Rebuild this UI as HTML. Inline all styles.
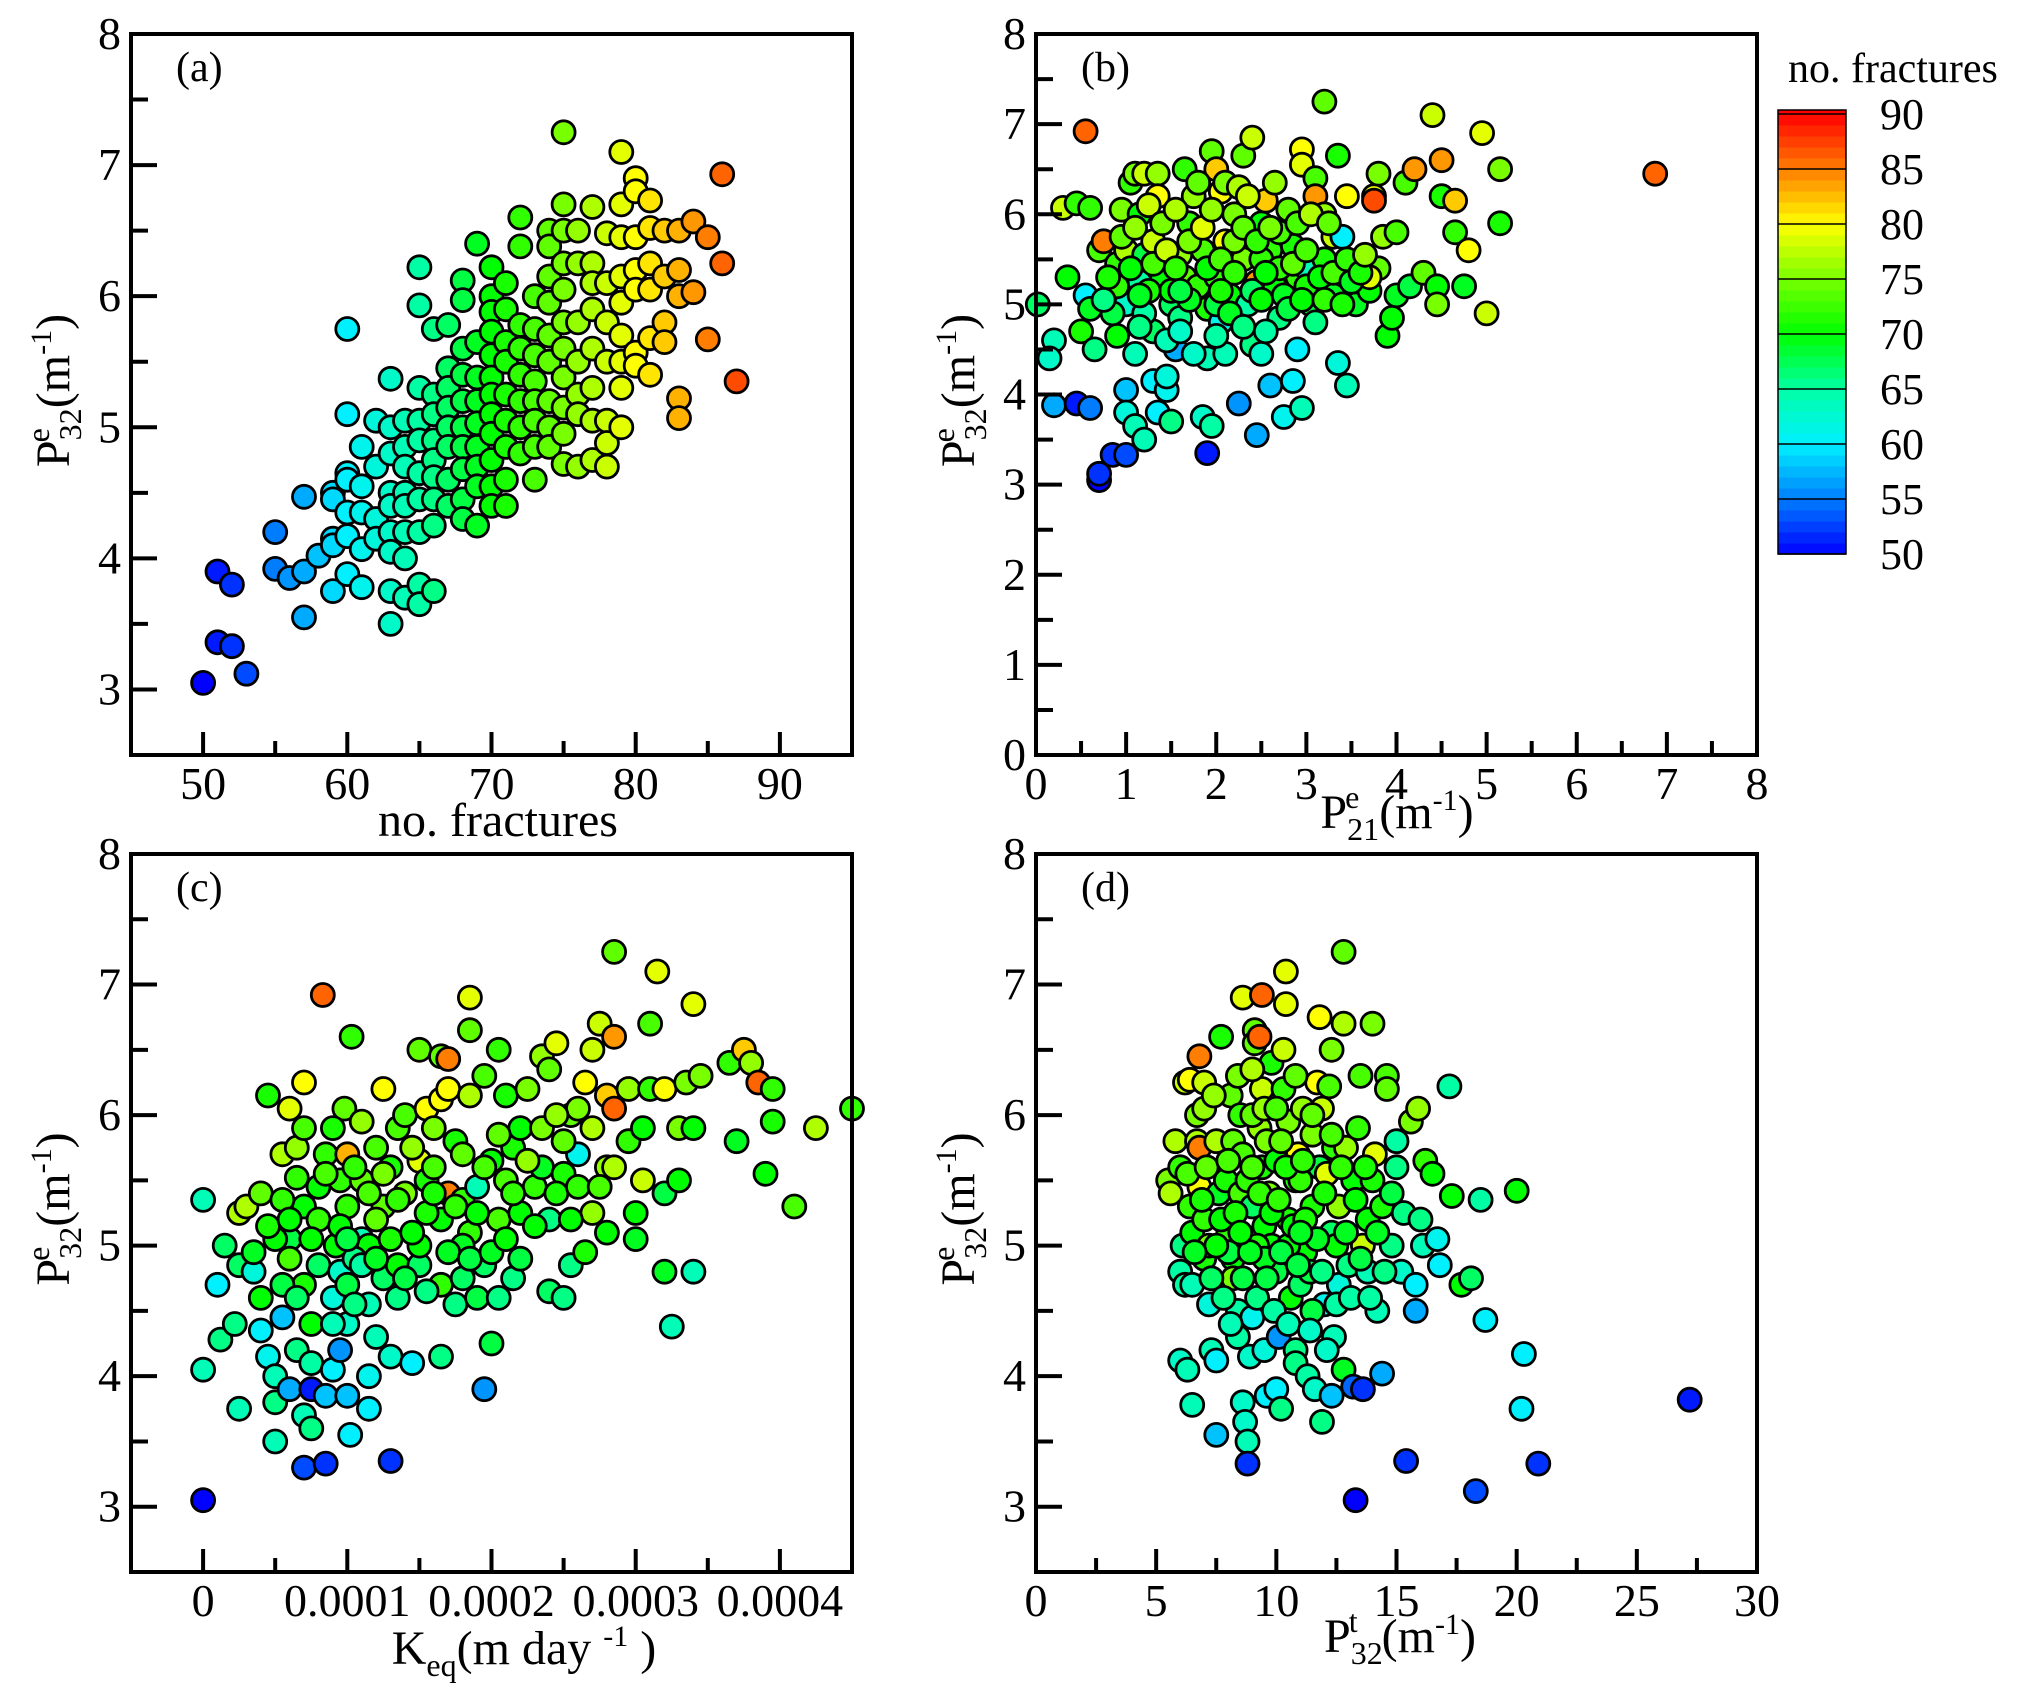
<!DOCTYPE html>
<html><head><meta charset="utf-8"><style>
html,body{margin:0;padding:0;background:#fff;}
svg, svg text{font-family:"Liberation Serif","Times New Roman",serif;}
</style></head><body>
<svg id="fig" width="2030" height="1703" viewBox="0 0 2030 1703" xmlns="http://www.w3.org/2000/svg" font-family="Liberation Serif, serif"></svg>
<script>
// ---------- DATA ----------
const aFractures = [50,51,52,53,55,56,57,58,59,60,61,62,63,64,65,66,67,68,69,70,71,72,73,74,75,76,77,78,79,80,81,82,83,84,85,86,87];
const aP32 = [
[3.05],[3.9,3.36],[3.8,3.33],[3.12],[4.2,3.92],[3.85],[4.47,3.9,3.55],[4.02],
[4.5,4.45,4.15,4.1,3.75],[5.75,5.1,4.65,4.6,4.35,4.17,3.88],[4.85,4.55,4.35,4.07,3.78],
[5.05,4.7,4.3,4.15],[5.37,5.0,4.8,4.5,4.4,4.2,4.05,3.75,3.5],[5.05,4.85,4.7,4.5,4.4,4.2,4.0,3.7],
[6.22,5.93,5.3,5.05,4.9,4.65,4.45,4.2,3.8,3.65],[5.75,5.25,5.1,4.9,4.75,4.62,4.45,4.25,3.75],
[5.78,5.45,5.3,5.15,5.0,4.85,4.6,4.4],[6.12,5.97,5.6,5.4,5.2,5.0,4.85,4.68,4.45,4.3],
[6.4,5.65,5.38,5.2,5.03,4.85,4.7,4.55,4.25],[6.22,6.0,5.88,5.73,5.55,5.38,5.25,5.1,4.95,4.75,4.55,4.4],
[6.1,5.9,5.65,5.5,5.25,5.05,4.85,4.6,4.4],[6.6,6.38,5.78,5.6,5.4,5.2,5.0,4.8],
[6.0,5.75,5.55,5.35,5.2,5.05,4.85,4.6],[6.5,6.38,6.15,5.95,5.7,5.5,5.2,5.0,4.85],
[7.25,6.7,6.5,6.25,6.05,5.8,5.6,5.38,5.15,4.95,4.72],[6.5,6.25,5.8,5.5,5.25,5.1,4.7],
[6.68,6.25,6.1,5.9,5.6,5.3,5.05,4.75],[6.48,6.1,5.8,5.5,5.05,4.88,4.7],
[7.1,6.7,6.45,6.15,5.95,5.7,5.5,5.3,5.0],[6.9,6.8,6.45,6.2,6.05,5.57,5.47],
[6.73,6.52,6.25,6.05,5.68,5.4],[6.5,6.15,5.8,5.65],[6.5,6.2,6.0,5.22,5.07],
[6.57,6.03],[6.45,5.67],[6.93,6.25],[5.35]];
const bPoints = [[0.02,5.0,67],[0.2,4.6,64],[0.15,4.4,63],[0.3,6.07,78],[0.45,6.12,72],[0.6,6.07,72],[0.35,5.3,70],[0.55,5.1,60],[0.6,4.95,69],[0.5,4.7,71],[0.65,4.5,66],[0.2,3.88,57],[0.45,3.9,51],[0.6,3.85,55],[0.55,6.92,86],[0.7,3.05,50],[0.7,3.12,52],[0.85,3.33,52],[1.0,3.33,53],[1.9,3.35,51],[0.7,5.6,73],[0.75,5.7,85],[0.9,5.45,72],[0.95,6.05,75],[1.0,5.6,77],[1.05,6.35,72],[1.1,6.45,75],[1.2,6.45,78],[1.35,6.45,76],[1.65,6.5,72],[1.15,6.0,70],[1.2,5.55,68],[1.15,5.25,65],[1.0,5.0,63],[0.9,4.65,70],[1.1,4.45,64],[1.0,4.05,58],[1.0,3.8,62],[1.1,3.65,64],[1.2,3.5,64],[1.3,4.15,60],[1.45,4.05,61],[1.35,3.8,60],[1.45,4.2,62],[1.55,4.5,57],[1.5,3.7,66],[1.35,6.2,80],[1.3,5.7,78],[1.4,5.3,70],[1.5,5.0,67],[1.3,4.7,67],[1.6,4.85,66],[1.65,5.3,74],[1.6,5.55,76],[1.7,5.9,72],[1.75,6.2,76],[1.85,5.6,73],[1.8,5.2,72],[1.9,4.95,71],[1.9,4.4,64],[1.85,3.75,63],[1.95,3.65,65],[1.95,6.7,74],[2.0,6.5,82],[2.05,6.25,80],[2.1,5.7,80],[2.0,5.3,72],[2.05,4.8,61],[2.1,4.45,64],[2.15,5.1,70],[2.2,6.0,75],[2.3,6.65,74],[2.4,6.85,78],[2.3,5.5,75],[2.35,5.0,65],[2.4,4.55,66],[2.25,3.9,56],[2.45,3.55,57],[2.5,4.45,63],[2.45,5.25,84],[2.5,5.9,70],[2.55,6.15,82],[2.6,5.6,72],[2.65,5.2,70],[2.7,4.85,66],[2.6,4.1,58],[2.75,3.75,61],[2.8,6.05,74],[2.85,5.65,71],[2.9,5.3,72],[2.9,4.5,60],[2.95,3.85,64],[2.85,4.15,60],[2.95,6.72,80],[2.95,6.55,79],[3.0,5.4,64],[3.05,5.0,68],[3.1,6.4,73],[3.1,6.2,84],[3.2,7.25,74],[3.2,6.0,76],[3.2,5.5,71],[3.3,5.1,69],[3.3,5.75,78],[3.35,6.65,71],[3.4,5.75,60],[3.35,4.35,62],[3.45,4.1,64],[3.45,6.2,80],[3.55,5.0,69],[3.7,5.15,70],[3.8,5.4,74],[3.7,5.3,79],[3.75,6.2,79],[3.75,6.15,87],[3.8,6.45,75],[3.9,4.65,70],[3.85,5.75,76],[4.0,5.8,73],[4.0,5.1,69],[3.95,4.85,70],[4.1,6.35,73],[4.2,6.5,84],[4.15,5.2,68],[4.3,5.35,74],[4.45,5.2,70],[4.45,5.0,75],[4.5,6.6,84],[4.5,6.2,71],[4.65,6.15,82],[4.65,5.8,72],[4.75,5.2,69],[4.8,5.6,80],[4.4,7.1,78],[4.95,6.9,79],[5.0,4.9,78],[5.15,6.5,75],[5.15,5.9,71],[6.87,6.45,86],[0.9,5.2,72],[1.5,5.15,70],[2.0,5.0,68],[2.5,5.5,72],[3.0,5.2,71],[1.2,4.9,65],[2.7,5.8,73],[2.2,5.7,75],
[0.8,5.3,71],[0.85,4.9,68],[0.95,5.75,74],[1.05,5.4,70],[1.1,5.85,76],[1.15,4.75,66],[1.25,5.15,71],[1.25,6.1,78],[1.3,5.45,73],[1.4,5.9,75],[1.45,4.6,64],[1.45,5.6,78],[1.55,6.05,77],[1.55,5.4,72],[1.6,4.7,63],[1.7,5.05,69],[1.7,5.7,75],[1.75,4.45,63],[1.8,6.35,74],[1.85,5.85,79],[1.9,5.4,70],[1.95,6.05,76],[2.0,4.65,65],[2.05,5.5,73],[2.1,6.35,75],[2.15,4.9,69],[2.2,5.35,72],[2.25,6.3,77],[2.3,4.75,66],[2.3,5.85,74],[2.35,6.2,78],[2.4,5.15,67],[2.45,5.7,72],[2.5,5.05,70],[2.55,4.7,65],[2.6,5.85,75],[2.65,6.35,76],[2.7,5.4,72],[2.75,5.1,69],[2.8,4.95,68],[2.85,5.45,74],[2.9,5.9,73],[2.95,5.05,70],[3.0,5.6,73],[3.05,6.0,77],[3.1,4.8,66],[3.15,5.3,70],[3.2,5.05,72],[3.25,5.9,74],[3.3,5.35,73],[3.4,5.0,71],[3.45,5.5,72],[3.5,5.25,69],[3.6,5.35,71],[3.65,5.55,76],[1.6,5.15,68],[2.05,5.15,71],[2.55,5.35,70],[0.75,5.05,66],[1.15,5.1,69]];
const cPoints = [[0,5.35,64],[0,4.05,64],[0,3.05,50],[0.1,4.7,60],[0.15,5.0,67],[0.12,4.28,66],[0.25,3.75,64],[0.22,4.4,66],[0.25,4.85,67],[0.25,5.25,77],[0.3,5.3,77],[0.35,4.8,62],[0.4,5.4,74],[0.45,6.15,71],[0.4,4.6,70],[0.45,4.15,61],[0.5,4.0,64],[0.5,3.8,66],[0.5,3.5,64],[0.55,4.45,58],[0.6,6.05,79],[0.55,5.7,77],[0.6,5.05,68],[0.6,4.9,73],[0.65,5.52,72],[0.65,5.75,76],[0.7,5.9,73],[0.65,4.2,66],[0.6,3.9,57],[0.7,3.7,64],[0.75,3.6,66],[0.7,3.3,53],[0.75,3.9,51],[0.75,4.1,65],[0.75,4.4,70],[0.7,4.7,71],[0.7,5.3,70],[0.7,6.25,80],[0.8,5.45,70],[0.8,4.85,67],[0.85,5.7,72],[0.83,6.92,86],[0.85,3.33,52],[0.85,3.85,58],[0.9,4.05,60],[0.9,4.6,62],[0.92,5.0,70],[0.95,5.5,72],[0.95,4.2,56],[0.95,4.8,63],[0.98,6.05,74],[1.0,5.7,83],[1.0,5.3,72],[1.0,4.4,63],[1.0,3.85,58],[1.02,3.55,60],[1.03,6.6,72],[1.1,5.05,64],[1.1,5.95,76],[1.1,5.5,74],[1.15,4.55,64],[1.15,4.0,61],[1.15,3.75,60],[1.15,5.0,70],[1.2,5.75,73],[1.2,4.3,64],[1.25,6.2,80],[1.25,5.3,74],[1.25,4.75,67],[1.3,4.15,63],[1.3,3.35,52],[1.35,5.9,73],[1.35,4.85,70],[1.4,6.0,73],[1.4,5.4,75],[1.45,4.1,60],[1.5,4.85,67],[1.5,5.65,79],[1.5,6.5,74],[1.55,6.05,80],[1.55,5.5,71],[1.6,5.9,75],[1.65,6.12,80],[1.65,6.45,74],[1.65,5.2,70],[1.65,4.7,72],[1.65,4.15,66],[1.7,6.43,85],[1.7,5.4,85],[1.7,6.2,80],[1.75,4.55,66],[1.75,5.8,71],[1.8,5.35,72],[1.8,4.75,67],[1.85,6.9,79],[1.85,6.65,74],[1.85,6.15,77],[1.85,5.1,72],[1.9,5.45,64],[1.9,4.6,68],[1.95,3.9,56],[1.95,4.85,67],[1.95,6.3,73],[2.0,5.65,70],[2.0,4.25,68],[2.05,6.5,72],[2.05,4.6,66],[2.05,5.2,73],[2.1,6.15,71],[2.15,5.75,71],[2.15,4.75,66],[2.2,5.9,70],[2.2,5.25,70],[2.25,6.2,75],[2.3,5.45,72],[2.35,6.45,76],[2.35,5.6,69],[2.4,6.35,74],[2.4,5.2,66],[2.4,4.65,67],[2.45,6.55,79],[2.5,4.6,66],[2.5,5.55,71],[2.55,6.0,74],[2.55,4.85,66],[2.6,6.05,75],[2.6,5.7,61],[2.65,6.25,80],[2.65,4.95,71],[2.7,5.25,76],[2.7,6.5,78],[2.75,6.7,78],[2.8,6.15,82],[2.8,5.6,76],[2.8,5.1,70],[2.85,7.25,74],[2.85,6.6,84],[2.85,5.6,77],[2.85,6.05,86],[2.95,6.2,76],[2.95,5.8,72],[3.0,5.05,69],[3.0,5.25,70],[3.05,5.5,78],[3.05,5.9,70],[3.1,6.2,72],[3.1,6.7,73],[3.15,7.1,79],[3.2,6.2,80],[3.2,4.8,69],[3.2,5.4,68],[3.25,4.38,64],[3.3,5.5,70],[3.3,5.9,75],[3.35,6.25,75],[3.4,6.85,79],[3.4,5.9,70],[3.4,4.8,64],[3.45,6.3,75],[3.65,6.4,72],[3.7,5.8,69],[3.75,6.5,82],[3.8,6.4,76],[3.85,6.25,86],[3.9,5.55,70],[3.95,6.2,72],[3.95,5.95,71],[4.1,5.3,73],[4.25,5.9,77],[4.5,6.05,72],[0.5,5.05,70],[0.8,5.2,72],[1.0,4.7,68],[1.3,5.6,71],[1.5,5.0,70],[1.2,5.2,74],[1.8,5.0,69],[2.1,5.5,73],[0.9,5.9,71],[1.35,4.6,66],[1.05,4.9,66],[0.55,4.7,68],[0.4,4.35,60],
[0.35,4.95,69],[0.45,5.15,71],[0.55,5.35,72],[0.65,4.6,67],[0.75,5.05,70],[0.85,5.55,73],[0.9,4.4,64],[0.95,5.15,70],[1.05,5.6,72],[1.05,4.55,66],[1.1,4.85,65],[1.15,5.4,73],[1.2,4.9,69],[1.25,5.55,75],[1.3,5.05,71],[1.35,5.35,72],[1.4,4.75,68],[1.45,5.75,76],[1.45,5.1,70],[1.55,4.65,66],[1.55,5.25,71],[1.6,5.6,73],[1.7,4.95,69],[1.75,5.3,72],[1.8,5.7,74],[1.85,4.9,68],[1.9,5.25,70],[1.95,5.6,73],[2.0,4.95,69],[2.05,5.85,74],[2.1,5.05,70],[2.15,5.4,72],[2.2,4.9,68],[2.25,5.65,76],[2.3,5.15,70],[2.35,5.9,75],[2.45,5.4,71],[2.5,5.8,74],[2.55,5.2,70],[2.6,5.45,72],[2.7,5.9,77],[2.75,5.45,73],[0.6,5.2,70],[1.0,5.05,68],[1.6,5.4,71],[2.45,6.0,76]];
const dPoints = [[5.5,5.5,75],[5.6,5.4,77],[5.8,5.8,77],[6.0,5.6,72],[6.1,5.0,66],[6.0,4.8,65],[6.2,4.7,65],[6.0,4.12,63],[6.3,4.05,64],[6.2,6.25,78],[6.4,6.27,80],[6.4,5.3,72],[6.5,5.1,70],[6.5,4.7,64],[6.5,3.78,64],[6.8,6.45,85],[6.7,6.0,75],[6.7,5.8,77],[6.8,5.45,80],[6.8,5.75,85],[7.0,6.25,78],[7.0,6.05,76],[7.0,5.2,72],[7.0,4.9,71],[7.2,5.0,75],[7.2,4.55,62],[7.3,4.2,64],[7.5,4.12,60],[7.5,3.55,58],[7.6,5.4,69],[7.7,6.6,71],[7.5,5.8,77],[7.9,5.5,71],[8.0,5.1,72],[8.1,6.15,74],[8.2,5.8,74],[8.2,4.9,70],[8.2,4.75,75],[8.4,4.3,65],[8.4,4.5,65],[8.6,6.9,79],[8.5,6.0,72],[8.5,5.4,73],[8.6,5.7,73],[8.7,5.0,71],[8.6,3.8,63],[8.7,3.65,63],[8.8,3.5,64],[8.8,3.33,52],[8.9,4.15,63],[9.0,4.45,61],[9.0,5.3,67],[9.1,6.65,74],[9.1,6.55,74],[9.3,6.6,86],[9.3,5.9,76],[9.4,6.92,86],[9.4,6.2,78],[9.4,5.6,71],[9.5,5.15,70],[9.5,4.2,62],[9.6,3.85,60],[9.6,5.8,75],[9.7,5.4,75],[9.8,6.4,71],[9.8,5.0,70],[10.0,5.65,70],[10.0,4.8,68],[10.1,4.3,56],[10.0,3.9,60],[10.2,3.75,66],[10.3,6.5,78],[10.3,6.2,72],[10.4,7.1,79],[10.4,6.85,79],[10.5,5.95,75],[10.5,5.2,71],[10.6,4.6,70],[10.8,4.2,66],[10.8,4.1,66],[10.8,5.5,71],[10.9,5.7,80],[11.0,4.7,67],[11.1,6.05,76],[11.2,4.95,70],[11.3,4.0,65],[11.4,4.8,68],[11.5,5.85,75],[11.5,5.3,71],[11.6,3.9,63],[11.7,6.25,80],[11.8,6.75,80],[11.8,5.6,68],[11.9,6.05,78],[12.0,4.55,61],[11.9,3.65,66],[12.1,5.55,79],[12.3,6.5,75],[12.2,6.22,73],[12.3,5.1,67],[12.3,3.85,58],[12.4,4.3,64],[12.4,5.75,72],[12.6,5.3,76],[12.6,4.7,62],[12.8,7.25,74],[12.8,6.7,77],[12.8,4.05,69],[12.9,5.75,76],[13.0,4.85,66],[13.2,5.5,70],[13.2,3.92,54],[13.3,3.05,50],[13.6,3.9,52],[13.4,5.9,72],[13.5,6.3,73],[13.6,5.0,78],[13.8,4.8,64],[13.8,5.2,70],[14.0,6.7,75],[14.1,5.7,79],[14.2,4.5,64],[14.4,4.02,57],[14.4,5.3,71],[14.6,6.3,73],[14.6,6.2,74],[14.8,5.0,66],[15.0,5.8,65],[15.0,5.6,66],[15.2,4.8,63],[15.3,5.25,66],[15.4,3.35,52],[15.6,5.95,75],[15.8,4.7,60],[15.8,4.5,57],[15.9,6.05,76],[16.0,5.2,66],[16.1,5.0,64],[16.2,5.65,72],[16.5,5.55,70],[16.7,5.05,61],[16.8,4.85,60],[17.2,6.22,65],[17.3,5.38,70],[17.7,4.7,70],[18.1,4.75,67],[18.5,5.35,65],[18.7,4.43,60],[18.3,3.12,53],[20.0,5.42,70],[20.2,3.75,60],[20.3,4.17,60],[20.9,3.33,52],[27.2,3.82,51],[9.2,5.0,71],[8.0,4.95,68],[10.5,5.0,70],[11.0,5.5,72],[9.5,4.9,69],[12.5,5.0,70],[14.0,5.5,71],[7.5,5.0,70],[9.0,6.0,74],[11.5,4.5,68],
[6.3,5.55,73],[6.6,4.95,69],[6.9,5.35,71],[7.1,5.6,74],[7.3,4.75,67],[7.4,6.15,76],[7.7,5.2,70],[7.8,4.6,66],[8.0,5.65,73],[8.1,4.4,64],[8.3,5.25,71],[8.4,6.3,75],[8.6,4.75,68],[8.8,5.5,72],[8.9,4.95,69],[9.0,6.35,77],[9.2,4.6,66],[9.3,5.4,72],[9.5,6.05,76],[9.6,4.75,68],[9.8,5.25,70],[9.9,4.5,65],[10.0,6.05,73],[10.1,5.35,72],[10.2,4.95,68],[10.4,5.6,71],[10.5,4.4,64],[10.7,5.15,70],[10.8,6.3,74],[10.9,4.85,68],[11.1,5.65,72],[11.2,5.2,71],[11.4,4.35,63],[11.5,6.0,74],[11.7,5.05,69],[11.9,4.8,66],[12.0,5.4,71],[12.1,4.2,63],[12.3,5.85,73],[12.5,4.55,65],[12.7,5.6,72],[12.9,5.1,69],[13.1,4.6,65],[13.3,5.35,70],[13.5,4.9,68],[13.7,5.6,71],[13.9,4.6,65],[14.2,5.1,69],[14.5,4.8,66],[14.8,5.4,68],[9.0,5.6,73],[10.2,5.8,74],[8.5,5.1,70],[11.0,5.1,69]];
const aXTicks = ["50","60","70","80","90"];
const bXTicks = ["0","1","2","3","4","5","6","7","8"];
const cXTicks = ["0","0.0001","0.0002","0.0003","0.0004"];
const dXTicks = ["0","5","10","15","20","25","30"];
const cbTicks = [50,55,60,65,70,75,80,85,90];

// ---------- HELPERS ----------
const NS="http://www.w3.org/2000/svg";
const FONT='Liberation Serif, Times New Roman, serif';
const svg=document.getElementById('fig');
function mk(tag,attrs,parent){const e=document.createElementNS(NS,tag);for(const k in attrs)e.setAttribute(k,attrs[k]);if(tag==='text')e.setAttribute('font-family',FONT);(parent||svg).appendChild(e);return e;}
const stops=[[50,[0,0,255]],[55,[0,125,255]],[60,[0,240,255]],[65,[0,255,165]],[70,[0,255,0]],[75,[120,255,0]],[80,[255,255,0]],[85,[255,125,0]],[90,[255,0,0]]];
function cmap(v){v=Math.max(50,Math.min(90,v));for(let i=0;i<stops.length-1;i++){const[a,ca]=stops[i],[b,cb]=stops[i+1];if(v<=b){const t=(v-a)/(b-a);return 'rgb('+ca.map((c,j)=>Math.round(c+(cb[j]-c)*t)).join(',')+')';}}return 'rgb(255,0,0)';}

function panel(p){
  const g=mk('g',{});
  
  
  const sx=v=>p.L+(v-p.xmin)/(p.xmax-p.xmin)*(p.R-p.L);
  const sy=v=>p.B-(v-p.ymin)/(p.ymax-p.ymin)*(p.B-p.T);
  const pg=mk('g',{},g);
  
  
  p.points.forEach(pt=>{
    const c=mk('circle',{cx:sx(pt[0]).toFixed(1),cy:sy(pt[1]).toFixed(1),r:11.5,fill:cmap(pt[2]),stroke:'#000','stroke-width':2.8},pg);
    
    
  });
  const fr=mk('rect',{x:p.L,y:p.T,width:p.R-p.L,height:p.B-p.T,fill:'none',stroke:'#000','stroke-width':4},g);
  
  
  for(let v=p.ymin;v<=p.ymax+1e-9;v+=0.5){
    const y=sy(v);const major=Math.abs(v-Math.round(v))<1e-9;
    mk('line',{x1:p.L,x2:p.L+(major?26:17),y1:y,y2:y,stroke:'#000','stroke-width':4},g);
    if(major){const t=mk('text',{x:p.L-10,y:y+15,'text-anchor':'end','font-size':46},g);t.textContent=String(Math.round(v));
      }
  }
  const n=Math.round((p.xTickMax-p.xTick0)/p.xStep);
  for(let i=0;i<=n*2;i++){
    const v=p.xTick0+i*p.xStep/2; if(v<p.xmin-1e-9||v>p.xmax+1e-9)continue;
    const x=sx(v);const major=i%2===0;
    mk('line',{x1:x,x2:x,y1:p.B,y2:p.B-(major?23:14),stroke:'#000','stroke-width':4},g);
  }
  p.xLabels.forEach((lab,i)=>{
    const t=mk('text',{x:sx(p.xTick0+i*p.xStep),y:p.B+44,'text-anchor':'middle','font-size':46},g);t.textContent=lab;
    
  });
  const lb=mk('text',{x:p.L+45,y:p.T+47,'font-size':42},g);lb.textContent=p.label;
  
  const yt=mk('text',{transform:`translate(${p.L-62},${(p.T+p.B)/2-4}) rotate(-90)`,'text-anchor':'middle','font-size':48},g);
  yt.innerHTML='P<tspan font-size="32" dy="12">32</tspan><tspan font-size="32" dx="-34" dy="-32">e</tspan><tspan dy="20" dx="20">(m</tspan><tspan font-size="30" dy="-18">-1</tspan><tspan dy="18">)</tspan>';
  
  return g;
}

const pa=[];aFractures.forEach((f,i)=>aP32[i].forEach(y=>pa.push([f,y,f])));
panel({name:'panel-a',L:131,R:852,T:34,B:755,xmin:45,xmax:95,ymin:2.5,ymax:8,xTick0:50,xStep:10,xTickMax:90,xLabels:aXTicks,points:pa,label:'(a)'});
panel({name:'panel-b',L:1036,R:1757,T:34,B:755,xmin:0,xmax:8,ymin:0,ymax:8,xTick0:0,xStep:1,xTickMax:8,xLabels:bXTicks,points:bPoints,label:'(b)'});
panel({name:'panel-c',L:131,R:852,T:854,B:1572,xmin:-0.5,xmax:4.5,ymin:2.5,ymax:8,xTick0:0,xStep:1,xTickMax:4,xLabels:cXTicks,points:cPoints,label:'(c)'});
panel({name:'panel-d',L:1036,R:1757,T:854,B:1572,xmin:0,xmax:30,ymin:2.5,ymax:8,xTick0:0,xStep:5,xTickMax:30,xLabels:dXTicks,points:dPoints,label:'(d)'});

function xt(x,y,html,name){const t=mk('text',{x:x,y:y,'text-anchor':'middle','font-size':48});t.innerHTML=html;
  }
xt(498,836,'no.  fractures','x-axis-title-a');
xt(1397,828,'P<tspan font-size="32" dy="12">21</tspan><tspan font-size="32" dx="-34" dy="-32">e</tspan><tspan dy="20" dx="20">(m</tspan><tspan font-size="30" dy="-18">-1</tspan><tspan dy="18">)</tspan>','x-axis-title-b');
xt(524,1664,'K<tspan font-size="32" dy="12">eq</tspan><tspan dy="-12">(m   day </tspan><tspan font-size="30" dy="-18">-1</tspan><tspan dy="18"> )</tspan>','x-axis-title-c');
xt(1400,1652,'P<tspan font-size="32" dy="12">32</tspan><tspan font-size="32" dx="-34" dy="-32">t</tspan><tspan dy="20" dx="24">(m</tspan><tspan font-size="30" dy="-18">-1</tspan><tspan dy="18">)</tspan>','x-axis-title-d');

const cb=mk('g',{});


const cbL=1778,cbR=1846,cbT=114,cbB=554;
const cy=v=>cbB-(v-50)/40*(cbB-cbT);
for(let v=50;v<90;v+=1){mk('rect',{x:cbL,y:cy(v+1),width:cbR-cbL,height:cy(v)-cy(v+1)+0.5,fill:cmap(v+0.5)},cb);}
mk('rect',{x:cbL,y:cbT-4,width:cbR-cbL,height:4,fill:cmap(90)},cb);
mk('rect',{x:cbL,y:cbT-4,width:cbR-cbL,height:cbB-cbT+4,fill:'none',stroke:'#000','stroke-width':1.5},cb);
cbTicks.forEach(v=>{mk('line',{x1:cbL,x2:cbR,y1:cy(v),y2:cy(v),stroke:'#000','stroke-width':1.5},cb);
  const t=mk('text',{x:1880,y:cy(v)+15,'font-size':44},cb);t.textContent=String(v);
  });
const ct=mk('text',{x:1788,y:82,'font-size':42},cb);ct.textContent='no.  fractures';

</script>
</body></html>
